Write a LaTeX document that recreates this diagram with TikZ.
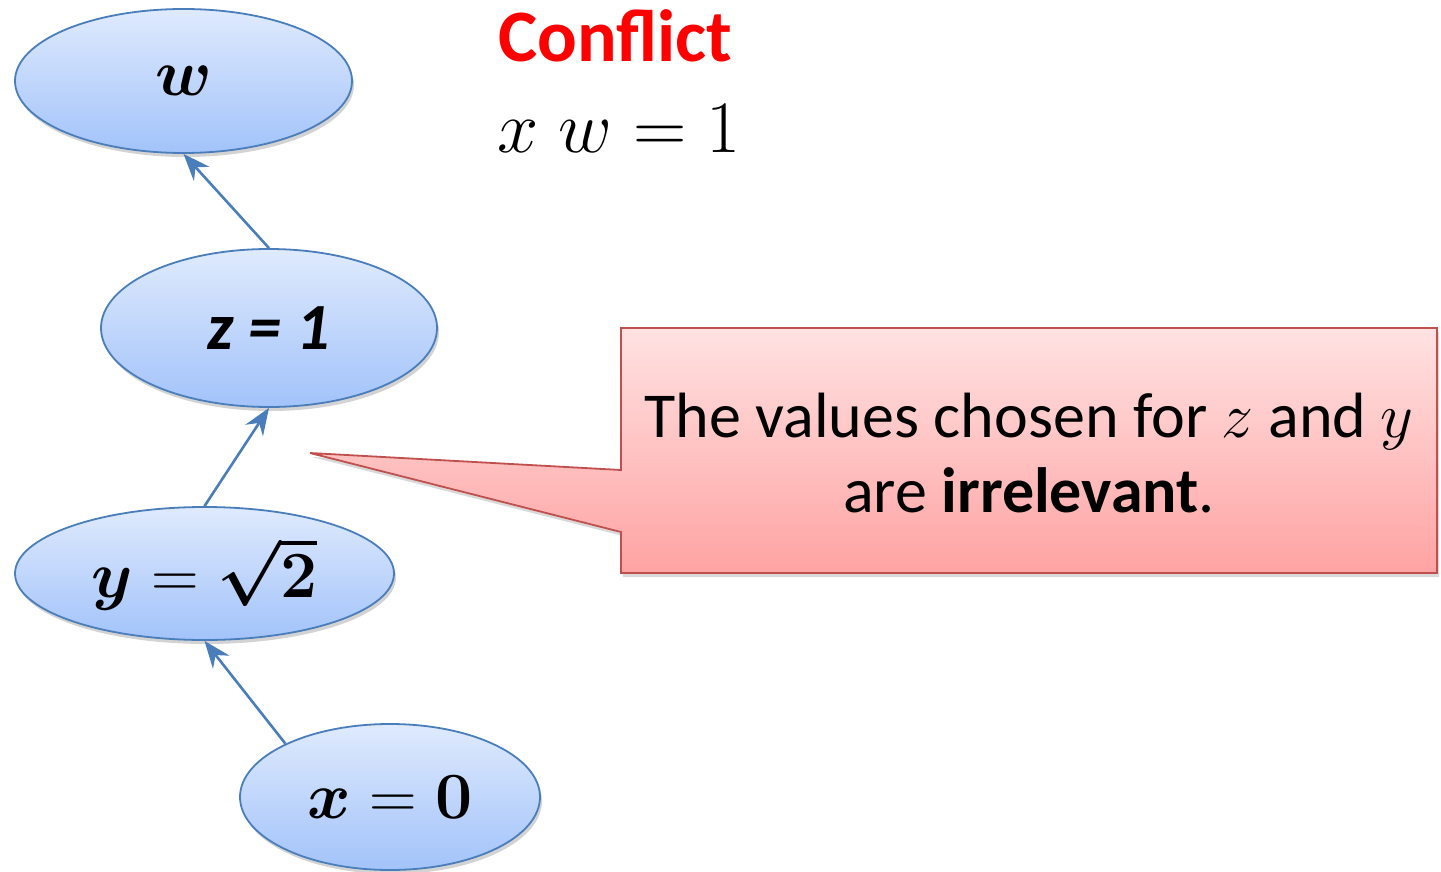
\RequirePackage{fix-cm}
\documentclass[tikz,border=0pt]{standalone}
\usepackage{amsmath,bm}
\usepackage[no-math]{fontspec}
\setmainfont{Carlito}
\usetikzlibrary{shapes.geometric,arrows.meta,shadows}
\definecolor{nodeTop}{HTML}{DFEAFD}
\definecolor{nodeBot}{HTML}{A2C3FA}
\definecolor{nodeLine}{HTML}{4A7EBB}
\definecolor{noteTop}{HTML}{FFE2E2}
\definecolor{noteBot}{HTML}{FFA3A3}
\definecolor{noteLine}{HTML}{C0504D}
\definecolor{confRed}{HTML}{FF0000}
\tikzset{
  varnode/.style={ellipse, draw=nodeLine, line width=1.8pt, inner sep=0pt,
    top color=nodeTop, bottom color=nodeBot,
    drop shadow={opacity=0.35, shadow xshift=2pt, shadow yshift=-4pt},
    font=\fontsize{66}{79}\selectfont},
  link/.style={draw=nodeLine, line width=2.6pt, -{Stealth[length=27pt,width=21pt,inset=9pt]}},
  notebox/.style={draw=noteLine, line width=1.8pt, top color=noteTop, bottom color=noteBot,
    drop shadow={opacity=0.3, shadow xshift=2pt, shadow yshift=-4pt}},
  notetext/.style={align=center, font=\fontsize{64}{75}\selectfont},
}
\begin{document}
\begin{tikzpicture}[x=1pt,y=1pt]
\useasboundingbox (0,0) rectangle (1441,-872);
% nodes
\node[varnode, minimum width=337, minimum height=144] (nw) at (183.5,-81) {$\bm{w}$\hspace{16pt}};
\node[varnode, minimum width=336, minimum height=158] (nz) at (269,-328) {\textbf{\textit{z = 1}}};
\node[varnode, minimum width=379, minimum height=133] (ny) at (204.5,-573.5) {$\bm{y}=\bm{\sqrt{2}}$};
\node[varnode, minimum width=300, minimum height=146] (nx) at (390,-797) {$\bm{x}=\mathbf{0}$};
% connectors
\draw[link] (nz.north) -- (nw.south);
\draw[link] (ny.north) -- (nz.south);
\draw[link] (nx.153) -- (ny.south);
% callout
\coordinate (tip) at (310,-453);
\path[notebox] (621,-328) -- (1437,-328) -- (1437,-573) -- (621,-573) -- (621,-532) -- (tip) -- (621,-470) -- cycle;
\node[notetext, anchor=base] (note) at (1029,-512) {The values chosen for $z$ and $y$\\ are \textbf{irrelevant}.};
% conflict
\node[anchor=base west, inner sep=0pt, text=confRed, font=\fontsize{74}{88}\selectfont\bfseries] (conf) at (498,-62) {Conflict};
\node[anchor=base west, inner sep=0pt, font=\fontsize{74}{88}\selectfont] (eq) at (497,-153) {$x\;w=1$};
\end{tikzpicture}
\end{document}
